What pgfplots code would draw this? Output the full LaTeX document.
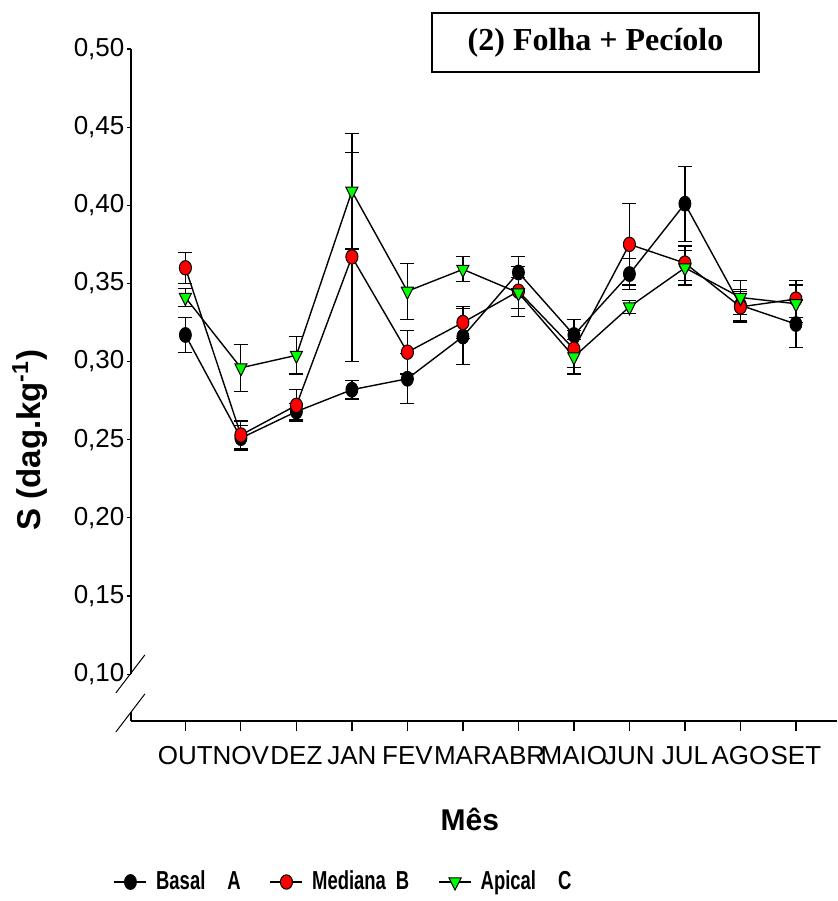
\documentclass[border=0pt]{standalone}
\usepackage{pgfplots}
\pgfplotsset{compat=1.18}
\usepackage{pgfplotstable}
\usepackage{fontspec}
\setmainfont{Liberation Sans}
\newfontfamily\titlefont{Liberation Serif}
\newfontfamily\legfont[FakeStretch=0.71]{Liberation Sans}
\newcommand\lf{\legfont\bfseries\fontsize{13}{15}\selectfont}

% month index, value, error
\pgfplotstableread{
x y e
0  0.317 0.011
1  0.251 0.008
2  0.268 0.005
3  0.282 0.006
4  0.289 0.016
5  0.316 0.018
6  0.357 0.010
7  0.317 0.010
8  0.356 0.010
9  0.401 0.024
10 0.336 0.010
11 0.324 0.015
}\basal

\pgfplotstableread{
x y e
0  0.360 0.010
1  0.253 0.009
2  0.272 0.010
3  0.367 0.067
4  0.306 0.014
5  0.325 0.010
6  0.345 0.016
7  0.308 0.012
8  0.375 0.026
9  0.363 0.011
10 0.335 0.010
11 0.340 0.012
}\mediana

\pgfplotstableread{
x y e
0  0.341 0.006
1  0.296 0.015
2  0.304 0.012
3  0.409 0.037
4  0.345 0.018
5  0.359 0.008
6  0.344 0.010
7  0.303 0.011
8  0.335 0.004
9  0.360 0.011
10 0.341 0.011
11 0.337 0.012
}\apical

\begin{document}
\begin{tikzpicture}
\path[use as bounding box] (0,0) rectangle (419pt,450.5pt);
\begin{axis}[
  at={(65.5pt,90pt)}, anchor=south west,
  scale only axis,
  width=353pt, height=336pt,
  xmin=-0.98, xmax=11.74,
  ymin=0.07, ymax=0.50,
  clip=false,
  axis x line*=bottom,
  axis y line*=left,
  x axis line style={line width=1.4pt},
  y axis line style={draw=none},
  tick align=outside,
  xtick={0,...,11},
  xticklabels={OUT,NOV,DEZ,JAN,FEV,MAR,ABR,MAIO,JUN,JUL,AGO,SET},
  ytick={0.10,0.15,...,0.50},
  x tick style={black, line width=0.6pt, /pgfplots/major tick length=5pt},
  y tick style={black, line width=0.6pt, /pgfplots/major tick length=2pt},
  tick label style={font=\fontsize{13}{15}\selectfont},
  yticklabel style={xshift=4.5pt, /pgf/number format/.cd, use comma, fixed, fixed zerofill, precision=2, assume math mode=true},
  xticklabel style={yshift=-5pt},
  xlabel={\textbf{Mês}},
  xlabel style={at={(axis description cs:0.480,-0.147)}, anchor=center, font=\fontsize{15}{17}\selectfont},
  ylabel={\textbf{S (dag.kg\textsuperscript{-1})}},
  ylabel style={at={(axis description cs:-0.143,0.418)}, anchor=center, font=\fontsize{16.5}{18}\selectfont},
  legend columns=3,
  legend cell align=left,
  legend style={draw=none, fill=none, inner sep=0pt,
    at={(axis description cs:-0.025,-0.2396)}, anchor=west,
    /tikz/every odd column/.append style={column sep=2.5pt},
    /tikz/every even column/.append style={column sep=12.5pt}},
  legend image code/.code={\draw[mark repeat=2,mark phase=2,#1] plot coordinates {(0pt,0pt) (8pt,0pt) (16pt,0pt)};},
  every axis plot/.append style={line width=0.7pt},
  error bars/error bar style={line width=0.6pt, black},
  error bars/error mark options={rotate=90, mark size=3.5pt, line width=0.6pt, black},
]

\addplot[black, mark=*, mark size=3.7pt, mark options={fill=black, draw=black, xscale=0.8, line width=0.5pt},
  error bars/.cd, y dir=both, y explicit]
  table[x=x, y=y, y error=e] {\basal};
\addlegendentry{\lf Basal\hspace{11pt}A}

\addplot[black, mark=*, mark size=3.6pt, mark options={fill=red, draw=black, xscale=0.84, line width=0.5pt},
  error bars/.cd, y dir=both, y explicit]
  table[x=x, y=y, y error=e] {\mediana};
\addlegendentry{\lf Mediana\hspace{5pt}B}

\addplot[black, mark=triangle*, mark size=3.5pt, mark options={fill=green, draw=black, rotate=180, yscale=1.15, line width=0.5pt},
  error bars/.cd, y dir=both, y explicit]
  table[x=x, y=y, y error=e] {\apical};
\addlegendentry{\lf Apical\hspace{11pt}C}

% broken y axis
\draw[line width=0.8pt] (axis cs:-0.98,0.50) -- (axis cs:-0.98,0.100);
\draw[line width=0.8pt] (axis cs:-0.98,0.0755) -- (axis cs:-0.98,0.07);
\draw[line width=0.5pt] (axis cs:-1.252,0.0880) -- (axis cs:-0.730,0.1123);
\draw[line width=0.5pt] (axis cs:-1.252,0.0630) -- (axis cs:-0.730,0.0873);
\end{axis}

\node[draw, line width=1pt, minimum width=163.5pt, minimum height=29.5pt, inner sep=0pt,
  font=\titlefont\bfseries\fontsize{16}{18}\selectfont] at (297.75pt,429.25pt) {(2) Folha + Pecíolo};
\end{tikzpicture}
\end{document}
